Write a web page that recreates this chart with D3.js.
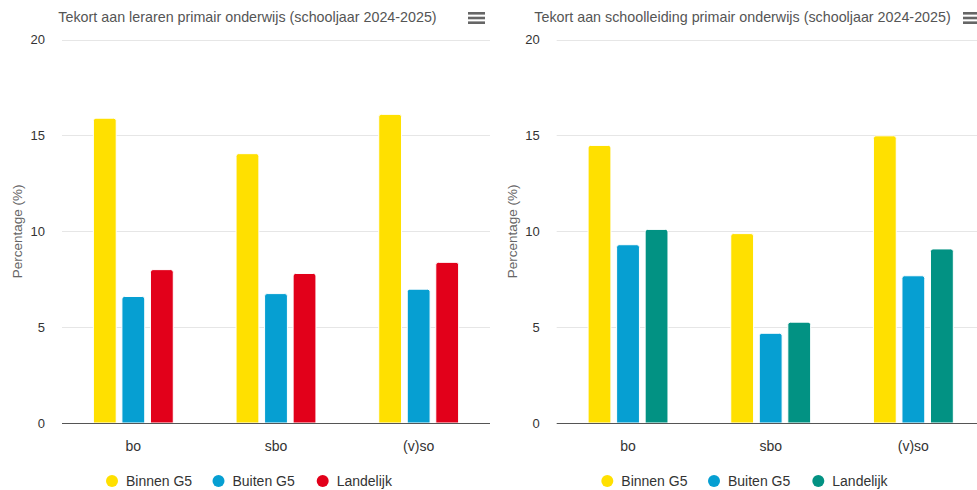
<!DOCTYPE html>
<html>
<head>
<meta charset="utf-8">
<script src="https://cdn.jsdelivr.net/npm/d3@7/dist/d3.min.js"></script>
<style>
  html, body { margin: 0; padding: 0; background: #fff; }
  svg { display: block; font-family: "Liberation Sans", Helvetica, Arial, sans-serif; }
</style>
</head>
<body>
<svg id="chart" width="977" height="490"></svg>
<script>
// ---- data ----
const categories = ["bo", "sbo", "(v)so"];
const seriesNames = ["Binnen G5", "Buiten G5", "Landelijk"];
const yTicks = [0, 5, 10, 15, 20];

const leraarTitle = "Tekort aan leraren primair onderwijs (schooljaar 2024-2025)";
const leraarBinnen = [15.9, 14.05, 16.1];
const leraarBuiten = [6.6, 6.75, 6.98];
const leraarLandelijk = [8.0, 7.8, 8.38];
const leraarColors = ["#FFE000", "#069FD2", "#E2001A"];

const leidingTitle = "Tekort aan schoolleiding primair onderwijs (schooljaar 2024-2025)";
const leidingBinnen = [14.48, 9.88, 14.98];
const leidingBuiten = [9.3, 4.68, 7.68];
const leidingLandelijk = [10.1, 5.26, 9.08];
const leidingColors = ["#FFE000", "#069FD2", "#029283"];

const svg = d3.select("#chart");

function drawChart(opts) {
  const { left, top, plotW, plotH, title, titleX, values, colors, menuX } = opts;
  const g = svg.append("g");

  const x0 = d3.scaleBand().domain(categories).range([left, left + plotW]).padding(0);
  const bw = x0.bandwidth();
  const x1 = d3.scaleBand().domain(seriesNames).range([0.2 * bw, 0.8 * bw]).padding(0);
  const y = d3.scaleLinear().domain([0, 20]).range([top + plotH, top]);

  // gridlines
  g.append("g").selectAll("line").data(yTicks.filter(t => t > 0)).join("line")
    .attr("x1", left).attr("x2", left + plotW)
    .attr("y1", d => Math.round(y(d)) + 0.5).attr("y2", d => Math.round(y(d)) + 0.5)
    .attr("stroke", "#e6e6e6").attr("stroke-width", 1);

  // y tick labels
  g.append("g").selectAll("text").data(yTicks).join("text")
    .attr("x", left - 17).attr("y", d => y(d) + 4.5)
    .attr("text-anchor", "end").attr("font-size", 13).attr("fill", "#333")
    .text(d => d);

  // y axis title
  g.append("text")
    .attr("transform", `translate(${left - 40},${top + plotH / 2}) rotate(-90)`)
    .attr("text-anchor", "middle").attr("font-size", 13.5).attr("fill", "#666")
    .text("Percentage (%)");

  // bars
  const data = [];
  categories.forEach((c, i) => {
    seriesNames.forEach((s, j) => data.push({ c, s, v: values[j][i], color: colors[j] }));
  });
  const r = 2.5;
  g.append("g").selectAll("path").data(data).join("path")
    .attr("d", d => {
      const bx = x0(d.c) + x1(d.s) + 0.1 * x1.bandwidth();
      const w = 0.8 * x1.bandwidth();
      const yt = y(d.v), yb = y(0);
      return `M${bx},${yb} L${bx},${yt + r} Q${bx},${yt} ${bx + r},${yt} L${bx + w - r},${yt} Q${bx + w},${yt} ${bx + w},${yt + r} L${bx + w},${yb} Z`;
    })
    .attr("fill", d => d.color)
    .attr("stroke", "#fff").attr("stroke-width", 1);

  // x axis line
  g.append("line")
    .attr("x1", left).attr("x2", left + plotW)
    .attr("y1", y(0) + 0.5).attr("y2", y(0) + 0.5)
    .attr("stroke", "#555").attr("stroke-width", 1);

  // x labels
  g.append("g").selectAll("text").data(categories).join("text")
    .attr("x", d => x0(d) + bw / 2).attr("y", y(0) + 28)
    .attr("text-anchor", "middle").attr("font-size", 14).attr("fill", "#333")
    .text(d => d);

  // title
  g.append("text")
    .attr("x", titleX).attr("y", 22)
    .attr("text-anchor", "middle").attr("font-size", 14.3).attr("fill", "#555")
    .text(title);

  // menu icon
  g.append("g").selectAll("rect").data([0, 1, 2]).join("rect")
    .attr("x", menuX).attr("y", d => 12 + d * 4.7).attr("width", 17).attr("height", 2.6)
    .attr("fill", "#666");

  // legend
  const legendXs = opts.legendXs;
  const lg = g.append("g");
  seriesNames.forEach((s, j) => {
    lg.append("circle").attr("cx", legendXs[j]).attr("cy", 481).attr("r", 6).attr("fill", colors[j]);
    lg.append("text").attr("x", legendXs[j] + 14).attr("y", 486)
      .attr("font-size", 14).attr("fill", "#333").text(s);
  });
}

drawChart({
  left: 62, top: 39.6, plotW: 428, plotH: 383.4,
  title: leraarTitle, titleX: 247.5,
  values: [leraarBinnen, leraarBuiten, leraarLandelijk],
  colors: leraarColors, menuX: 468,
  legendXs: [112, 218.5, 322.7]
});

drawChart({
  left: 556.7, top: 39.6, plotW: 428, plotH: 383.4,
  title: leidingTitle, titleX: 742.5,
  values: [leidingBinnen, leidingBuiten, leidingLandelijk],
  colors: leidingColors, menuX: 963,
  legendXs: [607.3, 714, 818.3]
});
</script>
</body>
</html>
